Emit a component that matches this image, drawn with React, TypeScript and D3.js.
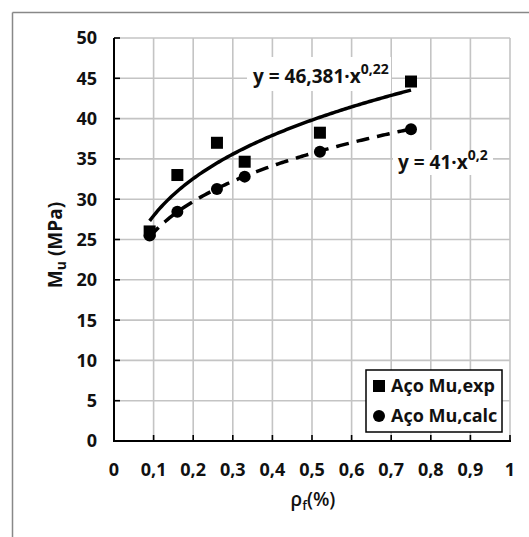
import React from "react";
import * as d3 from "d3";

const expX = [0.09, 0.16, 0.26, 0.33, 0.52, 0.75];
const expY = [26.0, 33.0, 37.0, 34.65, 38.25, 44.6];
const calcX = [0.09, 0.16, 0.26, 0.33, 0.52, 0.75];
const calcY = [25.5, 28.45, 31.27, 32.8, 35.9, 38.67];
const xTicks = [0, 0.1, 0.2, 0.3, 0.4, 0.5, 0.6, 0.7, 0.8, 0.9, 1];
const yTicks = [0, 5, 10, 15, 20, 25, 30, 35, 40, 45, 50];
const expFit = { a: 46.381, b: 0.22 };
const calcFit = { a: 41, b: 0.2 };
const legendLabels = ["Aço Mu,exp", "Aço Mu,calc"];

const FONT = "'Open Sans', 'Noto Sans', sans-serif";

export default function App() {
  const x = d3.scaleLinear().domain([0, 1]).range([114, 510]);
  const y = d3.scaleLinear().domain([0, 50]).range([441, 38]);
  const fmt = (v: number) => String(v).replace(".", ",");

  const xs = d3.range(0.09, 0.7501, 0.005);
  const line = d3
    .line<number>()
    .x((d) => x(d))
    .curve(d3.curveLinear);
  const expPath = line.y((d) => y(expFit.a * Math.pow(d, expFit.b)))(xs) || "";
  const calcPath = line.y((d) => y(calcFit.a * Math.pow(d, calcFit.b)))(xs) || "";

  return (
    <svg width={529} height={537} style={{ position: "absolute", left: 0, top: 0 }}>
      <rect x={0} y={0} width={529} height={537} fill="#fff" />
      {/* outer frame */}
      <line x1={12.5} y1={12.5} x2={529} y2={12.5} stroke="#888" strokeWidth={1.5} />
      <line x1={12.5} y1={12.5} x2={12.5} y2={537} stroke="#888" strokeWidth={1.5} />

      {/* grid */}
      {xTicks.slice(1).map((t) => (
        <line key={"gx" + t} x1={x(t)} x2={x(t)} y1={y(0)} y2={y(50)} stroke="#c4c4c4" strokeWidth={1.6} />
      ))}
      {yTicks.slice(1).map((t) => (
        <line key={"gy" + t} x1={x(0)} x2={x(1)} y1={y(t)} y2={y(t)} stroke="#c4c4c4" strokeWidth={1.6} />
      ))}

      {/* axes */}
      <line x1={x(0)} x2={x(0)} y1={y(0) + 1} y2={y(50)} stroke="#000" strokeWidth={2} />
      <line x1={x(0) - 1} x2={x(1) + 1} y1={y(0)} y2={y(0)} stroke="#000" strokeWidth={2} />
      {yTicks.map((t) => (
        <line key={"ty" + t} x1={x(0)} x2={x(0) + 6} y1={y(t)} y2={y(t)} stroke="#000" strokeWidth={1.6} />
      ))}
      {xTicks.map((t) => (
        <line key={"tx" + t} x1={x(t)} x2={x(t)} y1={y(0)} y2={y(0) - 6} stroke="#000" strokeWidth={1.6} />
      ))}

      {/* tick labels */}
      {yTicks.map((t) => (
        <text key={"ly" + t} x={97} y={y(t)} dy="0.36em" textAnchor="end" fontFamily={FONT} fontWeight="bold" fontSize={18} fill="#111">
          {fmt(t)}
        </text>
      ))}
      {xTicks.map((t) => (
        <text key={"lx" + t} x={x(t)} y={476} textAnchor="middle" fontFamily={FONT} fontWeight="bold" fontSize={18} fill="#111">
          {fmt(t)}
        </text>
      ))}

      {/* axis titles */}
      <text x={313} y={506} textAnchor="middle" fontFamily={FONT} fontWeight="600" fontSize={19} fill="#111">
        ρ<tspan fontSize={13} dy={4}>f</tspan>
        <tspan dy={-4}>(%)</tspan>
      </text>
      <text transform="translate(62,245) rotate(-90)" textAnchor="middle" fontFamily={FONT} fontWeight="bold" fontSize={19} fill="#111">
        M<tspan fontSize={14} dy={4}>u</tspan>
        <tspan dy={-4}> (MPa)</tspan>
      </text>

      {/* trendlines */}
      <path d={expPath} fill="none" stroke="#000" strokeWidth={3.5} />
      <path d={calcPath} fill="none" stroke="#000" strokeWidth={3.5} strokeDasharray="13,8" />

      {/* markers */}
      {expX.map((v, i) => (
        <rect key={"e" + i} x={x(v) - 6} y={y(expY[i]) - 6} width={12} height={12} fill="#000" />
      ))}
      {calcX.map((v, i) => (
        <circle key={"c" + i} cx={x(v)} cy={y(calcY[i])} r={6} fill="#000" />
      ))}

      {/* equation labels */}
      <rect x={247} y={57} width={144} height={34} fill="#fff" />
      <text x={253} y={83} fontFamily={FONT} fontWeight="bold" fontSize={19} fill="#111">
        y = 46,381·x<tspan fontSize={14} dy={-9}>0,22</tspan>
      </text>
      <rect x={393} y={150} width={100} height={25} fill="#fff" />
      <text x={398} y={169} fontFamily={FONT} fontWeight="bold" fontSize={19} fill="#111">
        y = 41·x<tspan fontSize={14} dy={-9}>0,2</tspan>
      </text>

      {/* legend */}
      <rect x={366} y={370} width={136} height={62} fill="#fff" stroke="#000" strokeWidth={1.5} />
      <rect x={373} y={380} width={12} height={12} fill="#000" />
      <circle cx={379} cy={416} r={6} fill="#000" />
      {legendLabels.map((l, i) => (
        <text key={l} x={391} y={386 + i * 30} dy="0.36em" fontFamily={FONT} fontWeight="bold" fontSize={18} fill="#111">
          {l}
        </text>
      ))}
    </svg>
  );
}
